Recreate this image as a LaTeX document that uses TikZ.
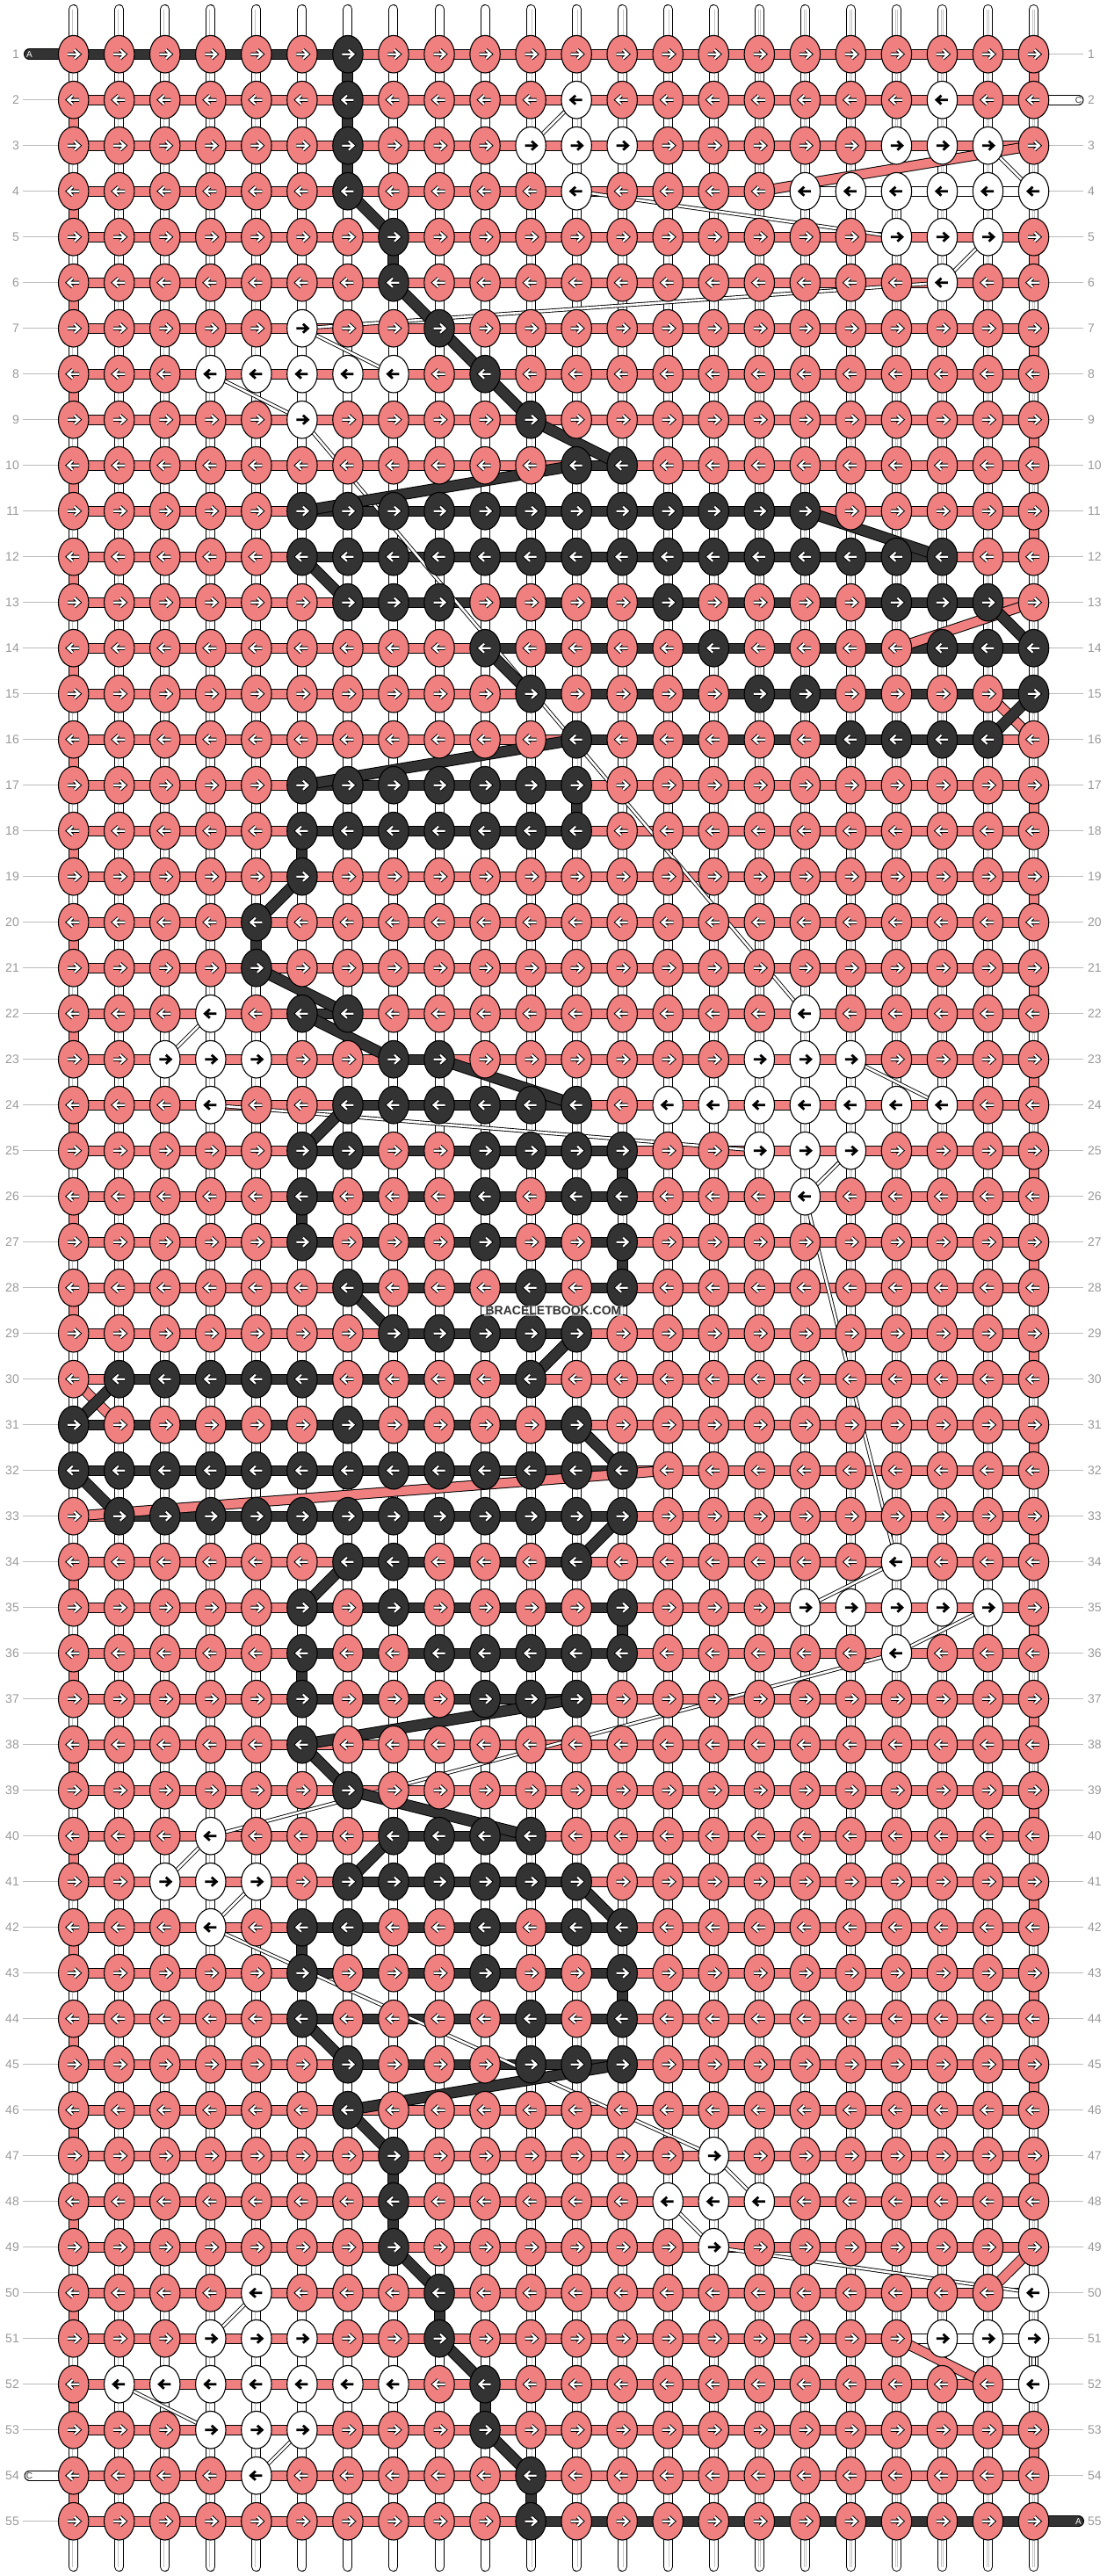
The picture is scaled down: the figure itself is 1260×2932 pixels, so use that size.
\documentclass[tikz,border=0pt]{standalone}
\usepackage{fontspec}
\setmainfont{Liberation Sans}
\usetikzlibrary{shapes.geometric}
\definecolor{S}{HTML}{F08080}
\definecolor{D}{HTML}{333333}
\definecolor{W}{HTML}{FFFFFF}
\definecolor{lblc}{HTML}{999999}
\definecolor{lnc}{HTML}{BBBBBB}
\definecolor{strg}{HTML}{C4C4C4}

\newcount\rcc
\def\dosplit#1{%
  \ifx#1\relax\else
    \global\advance\rcc by 1
    \expandafter\xdef\csname k-\currow-\the\rcc\endcsname{#1}%
    \ifnum\csname rmin#1\endcsname=99 \expandafter\xdef\csname rmin#1\endcsname{\the\rcc}\fi
    \expandafter\xdef\csname rmax#1\endcsname{\the\rcc}%
    \expandafter\dosplit
  \fi}
\def\defrow#1#2{%
  \xdef\currow{#1}\global\rcc=0
  \xdef\rminS{99}\xdef\rmaxS{0}\xdef\rminD{99}\xdef\rmaxD{0}\xdef\rminW{99}\xdef\rmaxW{0}%
  \dosplit#2\relax
  \expandafter\xdef\csname smin-#1\endcsname{\rminS}%
  \expandafter\xdef\csname smax-#1\endcsname{\rmaxS}%
  \expandafter\xdef\csname dmin-#1\endcsname{\rminD}%
  \expandafter\xdef\csname dmax-#1\endcsname{\rmaxD}%
  \expandafter\xdef\csname wmin-#1\endcsname{\rminW}%
  \expandafter\xdef\csname wmax-#1\endcsname{\rmaxW}}

\defrow{1}{SSSSSSDSSSSSSSSSSSSSSS}
\defrow{2}{SSSSSSDSSSSWSSSSSSSWSS}
\defrow{3}{SSSSSSDSSSWWWSSSSSWWWS}
\defrow{4}{SSSSSSDSSSSWSSSSWWWWWW}
\defrow{5}{SSSSSSSDSSSSSSSSSSWWWS}
\defrow{6}{SSSSSSSDSSSSSSSSSSSWSS}
\defrow{7}{SSSSSWSSDSSSSSSSSSSSSS}
\defrow{8}{SSSWWWWWSDSSSSSSSSSSSS}
\defrow{9}{SSSSSWSSSSDSSSSSSSSSSS}
\defrow{10}{SSSSSSSSSSSDDSSSSSSSSS}
\defrow{11}{SSSSSDDDDDDDDDDDDSSSSS}
\defrow{12}{SSSSSDDDDDDDDDDDDDDDSS}
\defrow{13}{SSSSSSDDDSSSSDSSSSDDDS}
\defrow{14}{SSSSSSSSSDSSSSDSSSSDDD}
\defrow{15}{SSSSSSSSSSDSSSSDDSSSSD}
\defrow{16}{SSSSSSSSSSSDSSSSSDDDDS}
\defrow{17}{SSSSSDDDDDDDSSSSSSSSSS}
\defrow{18}{SSSSSDDDDDDDSSSSSSSSSS}
\defrow{19}{SSSSSDSSSSSSSSSSSSSSSS}
\defrow{20}{SSSSDSSSSSSSSSSSSSSSSS}
\defrow{21}{SSSSDSSSSSSSSSSSSSSSSS}
\defrow{22}{SSSWSDDSSSSSSSSSWSSSSS}
\defrow{23}{SSWWWSSDDSSSSSSWWWSSSS}
\defrow{24}{SSSWSSDDDDDDSWWWWWWWSS}
\defrow{25}{SSSSSDDSSDDDDSSWWWSSSS}
\defrow{26}{SSSSSDSSSDSDDSSSWSSSSS}
\defrow{27}{SSSSSDSSSDSSDSSSSSSSSS}
\defrow{28}{SSSSSSDSSSDSDSSSSSSSSS}
\defrow{29}{SSSSSSSDDDDDSSSSSSSSSS}
\defrow{30}{SDDDDDSSSSDSSSSSSSSSSS}
\defrow{31}{DSSSSSDSSSSDSSSSSSSSSS}
\defrow{32}{DDDDDDDDDDDDDSSSSSSSSS}
\defrow{33}{SDDDDDDDDDDDDSSSSSSSSS}
\defrow{34}{SSSSSSDDSSSDSSSSSSWSSS}
\defrow{35}{SSSSSDSDSSSSDSSSWWWWWS}
\defrow{36}{SSSSSDSSDDDDDSSSSSWSSS}
\defrow{37}{SSSSSDSSSDDDSSSSSSSSSS}
\defrow{38}{SSSSSDSSSSSSSSSSSSSSSS}
\defrow{39}{SSSSSSDSSSSSSSSSSSSSSS}
\defrow{40}{SSSWSSSDDDDSSSSSSSSSSS}
\defrow{41}{SSWWWSDDDDDDSSSSSSSSSS}
\defrow{42}{SSSWSDDSSDSDDSSSSSSSSS}
\defrow{43}{SSSSSDSSSDSSDSSSSSSSSS}
\defrow{44}{SSSSSDSSSSDSDSSSSSSSSS}
\defrow{45}{SSSSSSDSSSDDDSSSSSSSSS}
\defrow{46}{SSSSSSDSSSSSSSSSSSSSSS}
\defrow{47}{SSSSSSSDSSSSSSWSSSSSSS}
\defrow{48}{SSSSSSSDSSSSSWWWSSSSSS}
\defrow{49}{SSSSSSSDSSSSSSWSSSSSSS}
\defrow{50}{SSSSWSSSDSSSSSSSSSSSSW}
\defrow{51}{SSSWWWSSDSSSSSSSSSSWWW}
\defrow{52}{SWWWWWWWSDSSSSSSSSSSSW}
\defrow{53}{SSSWWWSSSDSSSSSSSSSSSS}
\defrow{54}{SSSSWSSSSSDSSSSSSSSSSS}
\defrow{55}{SSSSSSSSSSDSSSSSSSSSSS}
\expandafter\xdef\csname dmin-1\endcsname{0}
\expandafter\xdef\csname dmax-55\endcsname{23}

\newif\ifinspan
\def\testspan#1#2#3{\inspanfalse\ifnum#1<\numexpr#3+1\relax\ifnum#2>#3\relax\inspantrue\fi\fi}
\def\gapcolor#1#2{%
  \testspan{\csname dmin-#1\endcsname}{\csname dmax-#1\endcsname}{#2}%
  \ifinspan\def\gc{D}\else
  \testspan{\csname smin-#1\endcsname}{\csname smax-#1\endcsname}{#2}%
  \ifinspan\def\gc{S}\else
  \testspan{\csname wmin-#1\endcsname}{\csname wmax-#1\endcsname}{#2}%
  \ifinspan\def\gc{W}\else\def\gc{S}\fi\fi\fi}

\begin{document}
\begin{tikzpicture}[x=1pt,y=-1pt,
  knot/.style={ellipse,draw=black,line width=1.1pt,minimum width=34.4pt,minimum height=42.6pt,inner sep=0pt},
  hbar/.style={double=#1,double distance=10pt,line width=1pt},
  dbar/.style={double=D,double distance=11pt,line width=1pt},
  wline/.style={double=white,double distance=2.6pt,line width=0.9pt},
  warrow/.style={double=white,double distance=2.2pt,line width=1pt,line join=miter},
  barrow/.style={draw=black,line width=2.8pt,line join=miter},
  lbl/.style={text=lblc,font=\fontsize{14}{14}\selectfont,inner sep=0pt},
  lline/.style={draw=lnc,line width=1pt},
  vstring/.style={double=white,double distance=9pt,line width=1pt,line cap=round},
  vinner/.style={draw=strg,double=white,double distance=1.6pt,line width=0.6pt}]
\useasboundingbox (0,0) rectangle (1260,2932);

% knot positions
\foreach \r in {1,...,55}{
  \foreach \c in {1,...,22}{
    \coordinate (k-\r-\c) at ({83.7+52.04*(\c-1)},{61.7+52*(\r-1)});
  }
  \coordinate (ll-\r) at (26,{61.7+52*(\r-1)});
  \coordinate (lr-\r) at (1233,{61.7+52*(\r-1)});
}

% vertical base strings
\foreach \c in {1,...,22}{
  \coordinate (top-\c) at ({83.7+52.04*(\c-1)},10.5);
  \coordinate (bot-\c) at ({83.7+52.04*(\c-1)},2921.5);
  \draw[vstring] (top-\c) -- (bot-\c);
  \draw[vinner] (top-\c) -- (bot-\c);
}

% label guide lines
\foreach \r in {2,...,53,55}{\draw[lline] (ll-\r) -- (k-\r-1);}
\foreach \r in {1,3,4,...,54}{\draw[lline] (k-\r-22) -- (lr-\r);}

% horizontal bars
\foreach \r in {1,...,55}{
  \foreach \c [evaluate=\c as \cn using {int(\c+1)}] in {1,...,21}{
    \gapcolor{\r}{\c}%
    \draw[hbar=\gc] (k-\r-\c) -- (k-\r-\cn);
  }
}

% salmon string turns
\foreach \r [evaluate=\r as \rn using {int(\r+1)}] in {1,...,54}{
  \ifodd\r\relax
    \edef\tEnd{\csname smax-\r\endcsname}\edef\tStart{\csname smax-\rn\endcsname}%
  \else
    \edef\tEnd{\csname smin-\r\endcsname}\edef\tStart{\csname smin-\rn\endcsname}%
  \fi
  \draw[hbar=S] (k-\r-\tEnd) -- (k-\rn-\tStart);
}

% white string jumps
\xdef\prevw{0}\xdef\prevwe{0}
\foreach \r in {1,...,55}{
  \edef\wmx{\csname wmax-\r\endcsname}%
  \ifnum\wmx>0
    \ifodd\r\relax
      \edef\wS{\csname wmin-\r\endcsname}\edef\wE{\wmx}%
    \else
      \edef\wS{\wmx}\edef\wE{\csname wmin-\r\endcsname}%
    \fi
    \ifnum\prevw>0
      \draw[wline] (k-\prevw-\prevwe) -- (k-\r-\wS);
    \fi
    \xdef\prevw{\r}\xdef\prevwe{\wE}%
  \fi
}

% dark string turns
\foreach \r [evaluate=\r as \rn using {int(\r+1)}] in {1,...,54}{
  \ifodd\r\relax
    \edef\tEnd{\csname dmax-\r\endcsname}\edef\tStart{\csname dmax-\rn\endcsname}%
  \else
    \edef\tEnd{\csname dmin-\r\endcsname}\edef\tStart{\csname dmin-\rn\endcsname}%
  \fi
  \draw[dbar] (k-\r-\tEnd) -- (k-\rn-\tStart);
}

% string ends
\coordinate (aL) at (33.5,61.7);
\coordinate (aR) at (1227.5,2869.7);
\coordinate (cR) at (1227.5,113.7);
\coordinate (cL) at (33.5,2817.7);
\draw[dbar,line cap=round] (aL) -- (k-1-1);
\draw[dbar,line cap=round] (k-55-22) -- (aR);
\draw[hbar=W,line cap=round] (k-2-22) -- (cR);
\draw[hbar=W,line cap=round] (cL) -- (k-54-1);

% knots
\foreach \r in {1,...,55}{
  \ifodd\r\relax\def\sx{1}\else\def\sx{-1}\fi
  \foreach \c in {1,...,22}{
    \edef\kc{\csname k-\r-\c\endcsname}%
    \node[knot,fill=\kc] (n-\r-\c) at (k-\r-\c) {};
    \if W\kc
      \draw[barrow,shift={(k-\r-\c)},xscale=\sx] (-6.5,0) -- (6,0) (1,-5) -- (6.5,0) -- (1,5);
    \else
      \draw[warrow,shift={(k-\r-\c)},xscale=\sx] (-6.5,0) -- (6,0) (1,-5) -- (6.5,0) -- (1,5);
    \fi
  }
}

% row labels
\foreach \r in {1,...,55}{
  \node[lbl,anchor=east] (ln-\r) at (22,{61.7+52*(\r-1)}) {\r};
  \node[lbl,anchor=west] (rn-\r) at (1238,{61.7+52*(\r-1)}) {\r};
}
\node[text=white,font=\fontsize{10}{10}\selectfont,inner sep=0pt] (aLt) at (aL) {A};
\node[text=white,font=\fontsize{10}{10}\selectfont,inner sep=0pt] (aRt) at (aR) {A};
\node[text=D,font=\fontsize{10}{10}\selectfont,inner sep=0pt] (cRt) at (cR) {C};
\node[text=D,font=\fontsize{10}{10}\selectfont,inner sep=0pt] (cLt) at (cL) {C};

% watermark
\node[fill=white,fill opacity=0.55,text opacity=1,text=D,inner sep=1.5pt,
      font=\bfseries\fontsize{14}{14}\selectfont] (wm) at (630,1492) {BRACELETBOOK.COM};
\end{tikzpicture}
\end{document}
